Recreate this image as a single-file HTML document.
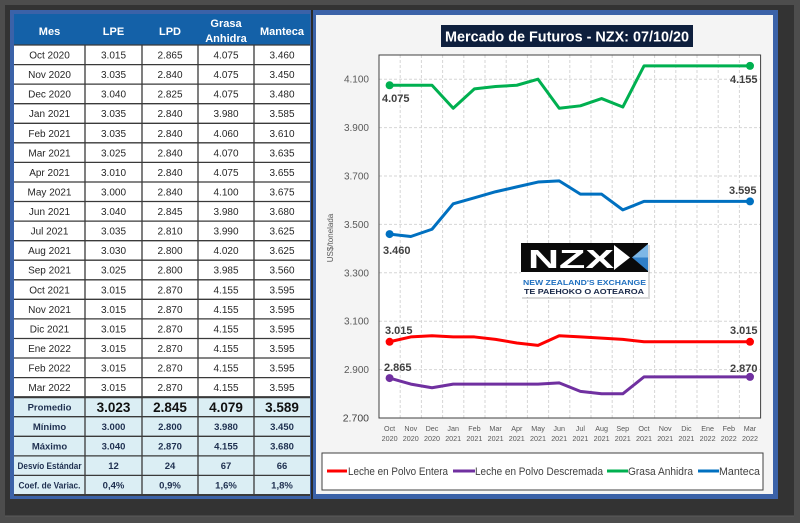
<!DOCTYPE html>
<html><head><meta charset="utf-8"><style>
html,body{margin:0;padding:0;background:#4a4a4a;}
svg{display:block;}
text{font-family:"Liberation Sans",sans-serif;}
</style></head><body>
<svg width="800" height="523" viewBox="0 0 800 523" xmlns="http://www.w3.org/2000/svg">
<rect x="0" y="0" width="800" height="523" fill="#4d4d4d"/>
<rect x="5" y="5" width="789" height="511" fill="#333333"/>
<line x1="5" y1="516" x2="794" y2="516" stroke="#5a5a5a" stroke-width="1"/>
<!-- table frame -->
<rect x="10" y="10" width="303" height="489" fill="#3b62a8"/>
<rect x="14" y="14" width="296" height="481" fill="#ffffff"/>
<rect x="14" y="14" width="296" height="31" fill="#1461a8"/>
<rect x="14" y="397.2" width="296" height="97.8" fill="#dbeef4"/>
<!-- header text -->
<g font-weight="bold" font-size="11" fill="#ffffff" text-anchor="middle">
<text x="49.5" y="35">Mes</text>
<text x="113.5" y="35">LPE</text>
<text x="170" y="35">LPD</text>
<text x="226" y="27">Grasa</text>
<text x="226" y="42">Anhidra</text>
<text x="282" y="35">Manteca</text>
</g>
<!-- grid lines table -->
<g stroke="#3a3a3a" stroke-width="1.3">
<line x1="85" y1="45" x2="85" y2="495"/>
<line x1="142" y1="45" x2="142" y2="495"/>
<line x1="198" y1="45" x2="198" y2="495"/>
<line x1="254" y1="45" x2="254" y2="495"/>
<line x1="14" y1="45" x2="310" y2="45"/>
<line x1="14" y1="64.6" x2="310" y2="64.6"/>
<line x1="14" y1="84.1" x2="310" y2="84.1"/>
<line x1="14" y1="103.7" x2="310" y2="103.7"/>
<line x1="14" y1="123.3" x2="310" y2="123.3"/>
<line x1="14" y1="142.8" x2="310" y2="142.8"/>
<line x1="14" y1="162.4" x2="310" y2="162.4"/>
<line x1="14" y1="182" x2="310" y2="182"/>
<line x1="14" y1="201.5" x2="310" y2="201.5"/>
<line x1="14" y1="221.1" x2="310" y2="221.1"/>
<line x1="14" y1="240.7" x2="310" y2="240.7"/>
<line x1="14" y1="260.2" x2="310" y2="260.2"/>
<line x1="14" y1="279.8" x2="310" y2="279.8"/>
<line x1="14" y1="299.3" x2="310" y2="299.3"/>
<line x1="14" y1="318.9" x2="310" y2="318.9"/>
<line x1="14" y1="338.5" x2="310" y2="338.5"/>
<line x1="14" y1="358" x2="310" y2="358"/>
<line x1="14" y1="377.6" x2="310" y2="377.6"/>
<line x1="14" y1="397.2" x2="310" y2="397.2" stroke-width="2.2"/>
<line x1="14" y1="416.7" x2="310" y2="416.7"/>
<line x1="14" y1="436.3" x2="310" y2="436.3"/>
<line x1="14" y1="455.9" x2="310" y2="455.9"/>
<line x1="14" y1="475.4" x2="310" y2="475.4"/>
<line x1="14" y1="495" x2="310" y2="495" stroke-width="2"/>
</g>
<!-- data rows -->
<g font-size="10" fill="#262626" text-anchor="middle">
<text x="49.5" y="58.5">Oct 2020</text><text x="113.5" y="58.5">3.015</text><text x="170" y="58.5">2.865</text><text x="226" y="58.5">4.075</text><text x="282" y="58.5">3.460</text>
<text x="49.5" y="78.1">Nov 2020</text><text x="113.5" y="78.1">3.035</text><text x="170" y="78.1">2.840</text><text x="226" y="78.1">4.075</text><text x="282" y="78.1">3.450</text>
<text x="49.5" y="97.6">Dec 2020</text><text x="113.5" y="97.6">3.040</text><text x="170" y="97.6">2.825</text><text x="226" y="97.6">4.075</text><text x="282" y="97.6">3.480</text>
<text x="49.5" y="117.2">Jan 2021</text><text x="113.5" y="117.2">3.035</text><text x="170" y="117.2">2.840</text><text x="226" y="117.2">3.980</text><text x="282" y="117.2">3.585</text>
<text x="49.5" y="136.8">Feb 2021</text><text x="113.5" y="136.8">3.035</text><text x="170" y="136.8">2.840</text><text x="226" y="136.8">4.060</text><text x="282" y="136.8">3.610</text>
<text x="49.5" y="156.3">Mar 2021</text><text x="113.5" y="156.3">3.025</text><text x="170" y="156.3">2.840</text><text x="226" y="156.3">4.070</text><text x="282" y="156.3">3.635</text>
<text x="49.5" y="175.9">Apr 2021</text><text x="113.5" y="175.9">3.010</text><text x="170" y="175.9">2.840</text><text x="226" y="175.9">4.075</text><text x="282" y="175.9">3.655</text>
<text x="49.5" y="195.5">May 2021</text><text x="113.5" y="195.5">3.000</text><text x="170" y="195.5">2.840</text><text x="226" y="195.5">4.100</text><text x="282" y="195.5">3.675</text>
<text x="49.5" y="215">Jun 2021</text><text x="113.5" y="215">3.040</text><text x="170" y="215">2.845</text><text x="226" y="215">3.980</text><text x="282" y="215">3.680</text>
<text x="49.5" y="234.6">Jul 2021</text><text x="113.5" y="234.6">3.035</text><text x="170" y="234.6">2.810</text><text x="226" y="234.6">3.990</text><text x="282" y="234.6">3.625</text>
<text x="49.5" y="254.2">Aug 2021</text><text x="113.5" y="254.2">3.030</text><text x="170" y="254.2">2.800</text><text x="226" y="254.2">4.020</text><text x="282" y="254.2">3.625</text>
<text x="49.5" y="273.7">Sep 2021</text><text x="113.5" y="273.7">3.025</text><text x="170" y="273.7">2.800</text><text x="226" y="273.7">3.985</text><text x="282" y="273.7">3.560</text>
<text x="49.5" y="293.3">Oct 2021</text><text x="113.5" y="293.3">3.015</text><text x="170" y="293.3">2.870</text><text x="226" y="293.3">4.155</text><text x="282" y="293.3">3.595</text>
<text x="49.5" y="312.8">Nov 2021</text><text x="113.5" y="312.8">3.015</text><text x="170" y="312.8">2.870</text><text x="226" y="312.8">4.155</text><text x="282" y="312.8">3.595</text>
<text x="49.5" y="332.4">Dic 2021</text><text x="113.5" y="332.4">3.015</text><text x="170" y="332.4">2.870</text><text x="226" y="332.4">4.155</text><text x="282" y="332.4">3.595</text>
<text x="49.5" y="352">Ene 2022</text><text x="113.5" y="352">3.015</text><text x="170" y="352">2.870</text><text x="226" y="352">4.155</text><text x="282" y="352">3.595</text>
<text x="49.5" y="371.5">Feb 2022</text><text x="113.5" y="371.5">3.015</text><text x="170" y="371.5">2.870</text><text x="226" y="371.5">4.155</text><text x="282" y="371.5">3.595</text>
<text x="49.5" y="391.1">Mar 2022</text><text x="113.5" y="391.1">3.015</text><text x="170" y="391.1">2.870</text><text x="226" y="391.1">4.155</text><text x="282" y="391.1">3.595</text>
</g>
<!-- stats -->
<g font-weight="bold" text-anchor="middle" fill="#1f3050">
<text x="49.5" y="410.5" font-size="9.5">Promedio</text>
<text x="49.5" y="430" font-size="9.5">Mínimo</text>
<text x="49.5" y="449.6" font-size="9.5">Máximo</text>
<text x="49.5" y="469.2" font-size="9" textLength="64" lengthAdjust="spacingAndGlyphs">Desvío Estándar</text>
<text x="49.5" y="488.7" font-size="9" textLength="62" lengthAdjust="spacingAndGlyphs">Coef. de Variac.</text>
</g>
<g font-weight="bold" text-anchor="middle" fill="#111" font-size="13.5">
<text x="113.5" y="412">3.023</text><text x="170" y="412">2.845</text><text x="226" y="412">4.079</text><text x="282" y="412">3.589</text>
</g>
<g font-weight="bold" text-anchor="middle" fill="#1f3050" font-size="9.5">
<text x="113.5" y="430">3.000</text><text x="170" y="430">2.800</text><text x="226" y="430">3.980</text><text x="282" y="430">3.450</text>
<text x="113.5" y="449.6">3.040</text><text x="170" y="449.6">2.870</text><text x="226" y="449.6">4.155</text><text x="282" y="449.6">3.680</text>
<text x="113.5" y="469.2">12</text><text x="170" y="469.2">24</text><text x="226" y="469.2">67</text><text x="282" y="469.2">66</text>
<text x="113.5" y="488.7">0,4%</text><text x="170" y="488.7">0,9%</text><text x="226" y="488.7">1,6%</text><text x="282" y="488.7">1,8%</text>
</g>

<!-- chart panel -->
<rect x="311" y="10" width="2" height="489" fill="#2a2a2a"/>
<rect x="313" y="10" width="465" height="489" fill="#3b62a8"/>
<rect x="316" y="15" width="457" height="479" fill="#f4f4f4"/>
<!-- title -->
<rect x="441" y="25" width="252" height="22" fill="#0e1f3d"/>
<text x="567" y="41.5" font-size="15" font-weight="bold" fill="#ffffff" text-anchor="middle" textLength="244" lengthAdjust="spacingAndGlyphs">Mercado de Futuros - NZX: 07/10/20</text>
<!-- plot area -->
<rect x="379" y="55" width="381.6" height="363" fill="#ffffff"/>
<g stroke="#d6d6d6" stroke-width="1" stroke-dasharray="3,2">
<line x1="379" y1="79.2" x2="760.6" y2="79.2"/>
<line x1="379" y1="127.6" x2="760.6" y2="127.6"/>
<line x1="379" y1="176" x2="760.6" y2="176"/>
<line x1="379" y1="224.4" x2="760.6" y2="224.4"/>
<line x1="379" y1="272.8" x2="760.6" y2="272.8"/>
<line x1="379" y1="321.2" x2="760.6" y2="321.2"/>
<line x1="379" y1="369.6" x2="760.6" y2="369.6"/>
<line x1="400.2" y1="55" x2="400.2" y2="418"/>
<line x1="421.4" y1="55" x2="421.4" y2="418"/>
<line x1="442.6" y1="55" x2="442.6" y2="418"/>
<line x1="463.8" y1="55" x2="463.8" y2="418"/>
<line x1="485" y1="55" x2="485" y2="418"/>
<line x1="506.2" y1="55" x2="506.2" y2="418"/>
<line x1="527.4" y1="55" x2="527.4" y2="418"/>
<line x1="548.6" y1="55" x2="548.6" y2="418"/>
<line x1="569.8" y1="55" x2="569.8" y2="418"/>
<line x1="591" y1="55" x2="591" y2="418"/>
<line x1="612.2" y1="55" x2="612.2" y2="418"/>
<line x1="633.4" y1="55" x2="633.4" y2="418"/>
<line x1="654.6" y1="55" x2="654.6" y2="418"/>
<line x1="675.8" y1="55" x2="675.8" y2="418"/>
<line x1="697" y1="55" x2="697" y2="418"/>
<line x1="718.2" y1="55" x2="718.2" y2="418"/>
<line x1="739.4" y1="55" x2="739.4" y2="418"/>
</g>
<rect x="379" y="55" width="381.6" height="363" fill="none" stroke="#404040" stroke-width="1"/>
<!-- y tick labels -->
<g font-size="10" fill="#595959" text-anchor="end">
<text x="369" y="82.7">4.100</text>
<text x="369" y="131.1">3.900</text>
<text x="369" y="179.5">3.700</text>
<text x="369" y="227.9">3.500</text>
<text x="369" y="276.3">3.300</text>
<text x="369" y="324.7">3.100</text>
<text x="369" y="373.1">2.900</text>
<text x="369" y="421.5" font-size="10.5" fill="#404040">2.700</text>
</g>
<text transform="translate(333,238) rotate(-90)" font-size="8" fill="#595959" text-anchor="middle">US$/tonelada</text>
<!-- x labels -->
<g font-size="7.2" fill="#595959" text-anchor="middle">
<text x="389.6" y="431">Oct</text><text x="389.6" y="441">2020</text>
<text x="410.8" y="431">Nov</text><text x="410.8" y="441">2020</text>
<text x="432" y="431">Dec</text><text x="432" y="441">2020</text>
<text x="453.2" y="431">Jan</text><text x="453.2" y="441">2021</text>
<text x="474.4" y="431">Feb</text><text x="474.4" y="441">2021</text>
<text x="495.6" y="431">Mar</text><text x="495.6" y="441">2021</text>
<text x="516.8" y="431">Apr</text><text x="516.8" y="441">2021</text>
<text x="538" y="431">May</text><text x="538" y="441">2021</text>
<text x="559.2" y="431">Jun</text><text x="559.2" y="441">2021</text>
<text x="580.4" y="431">Jul</text><text x="580.4" y="441">2021</text>
<text x="601.6" y="431">Aug</text><text x="601.6" y="441">2021</text>
<text x="622.8" y="431">Sep</text><text x="622.8" y="441">2021</text>
<text x="644" y="431">Oct</text><text x="644" y="441">2021</text>
<text x="665.2" y="431">Nov</text><text x="665.2" y="441">2021</text>
<text x="686.4" y="431">Dic</text><text x="686.4" y="441">2021</text>
<text x="707.6" y="431">Ene</text><text x="707.6" y="441">2022</text>
<text x="728.8" y="431">Feb</text><text x="728.8" y="441">2022</text>
<text x="750" y="431">Mar</text><text x="750" y="441">2022</text>
</g>
<!-- series -->
<g fill="none" stroke-width="3" stroke-linejoin="round" stroke-linecap="round">
<polyline stroke="#00b050" points="389.6,85.25 410.8,85.25 432,85.25 453.2,108.24 474.4,88.88 495.6,86.46 516.8,85.25 538,79.2 559.2,108.24 580.4,105.82 601.6,98.56 622.8,107.03 644,65.89 665.2,65.89 686.4,65.89 707.6,65.89 728.8,65.89 750,65.89"/>
<polyline stroke="#0070c0" points="389.6,234.08 410.8,236.5 432,229.24 453.2,203.83 474.4,197.78 495.6,191.73 516.8,186.89 538,182.05 559.2,180.84 580.4,194.15 601.6,194.15 622.8,209.88 644,201.41 665.2,201.41 686.4,201.41 707.6,201.41 728.8,201.41 750,201.41"/>
<polyline stroke="#ff0000" points="389.6,341.77 410.8,336.93 432,335.72 453.2,336.93 474.4,336.93 495.6,339.35 516.8,342.98 538,345.4 559.2,335.72 580.4,336.93 601.6,338.14 622.8,339.35 644,341.77 665.2,341.77 686.4,341.77 707.6,341.77 728.8,341.77 750,341.77"/>
<polyline stroke="#7030a0" points="389.6,378.07 410.8,384.12 432,387.75 453.2,384.12 474.4,384.12 495.6,384.12 516.8,384.12 538,384.12 559.2,382.91 580.4,391.38 601.6,393.8 622.8,393.8 644,376.86 665.2,376.86 686.4,376.86 707.6,376.86 728.8,376.86 750,376.86"/>
</g>
<g>
<circle cx="389.6" cy="85.25" r="4" fill="#00b050"/><circle cx="750" cy="65.89" r="4" fill="#00b050"/>
<circle cx="389.6" cy="234.08" r="4" fill="#0070c0"/><circle cx="750" cy="201.41" r="4" fill="#0070c0"/>
<circle cx="389.6" cy="341.77" r="4" fill="#ff0000"/><circle cx="750" cy="341.77" r="4" fill="#ff0000"/>
<circle cx="389.6" cy="378.07" r="4" fill="#7030a0"/><circle cx="750" cy="376.86" r="4" fill="#7030a0"/>
</g>
<!-- data labels -->
<g font-size="11" font-weight="bold" fill="#404040">
<text x="382" y="102">4.075</text>
<text x="730" y="83">4.155</text>
<text x="383" y="254">3.460</text>
<text x="729" y="194">3.595</text>
<text x="385" y="334">3.015</text>
<text x="730" y="334">3.015</text>
<text x="384" y="371">2.865</text>
<text x="730" y="372">2.870</text>
</g>
<!-- NZX logo -->
<rect x="522" y="245" width="128" height="54" fill="#000" opacity="0.15"/>
<rect x="521" y="243" width="127" height="54" fill="#ffffff"/>
<rect x="521" y="243" width="127" height="29" fill="#0a0a0a"/>
<text x="528" y="268" font-size="26" font-weight="bold" fill="#ffffff" textLength="86" lengthAdjust="spacingAndGlyphs">NZX</text>
<polygon points="614,245 630,257.5 614,270" fill="#ffffff"/>
<polygon points="632,257.5 648,244 648,257.5" fill="#7db7e6"/>
<polygon points="632,257.5 648,257.5 648,271" fill="#2f7fc8"/>
<text x="523" y="285" font-size="7.2" font-weight="bold" fill="#2070c0" textLength="123" lengthAdjust="spacingAndGlyphs">NEW ZEALAND'S EXCHANGE</text>
<text x="524" y="294" font-size="7.2" font-weight="bold" fill="#1b2a4a" textLength="120" lengthAdjust="spacingAndGlyphs">TE PAEHOKO O AOTEAROA</text>
<!-- legend -->
<rect x="322" y="453" width="441" height="37" fill="#ffffff" stroke="#404040" stroke-width="1"/>
<g stroke-width="3">
<line x1="327" y1="471" x2="347" y2="471" stroke="#ff0000"/>
<line x1="453" y1="471" x2="475" y2="471" stroke="#7030a0"/>
<line x1="607" y1="471" x2="628" y2="471" stroke="#00b050"/>
<line x1="698" y1="471" x2="719" y2="471" stroke="#0070c0"/>
</g>
<g font-size="11" fill="#404040">
<text x="348" y="475" textLength="100" lengthAdjust="spacingAndGlyphs">Leche en Polvo Entera</text>
<text x="475" y="475" textLength="128" lengthAdjust="spacingAndGlyphs">Leche en Polvo Descremada</text>
<text x="628" y="475" textLength="65" lengthAdjust="spacingAndGlyphs">Grasa Anhidra</text>
<text x="719" y="475" textLength="41" lengthAdjust="spacingAndGlyphs">Manteca</text>
</g>
</svg>
</body></html>
